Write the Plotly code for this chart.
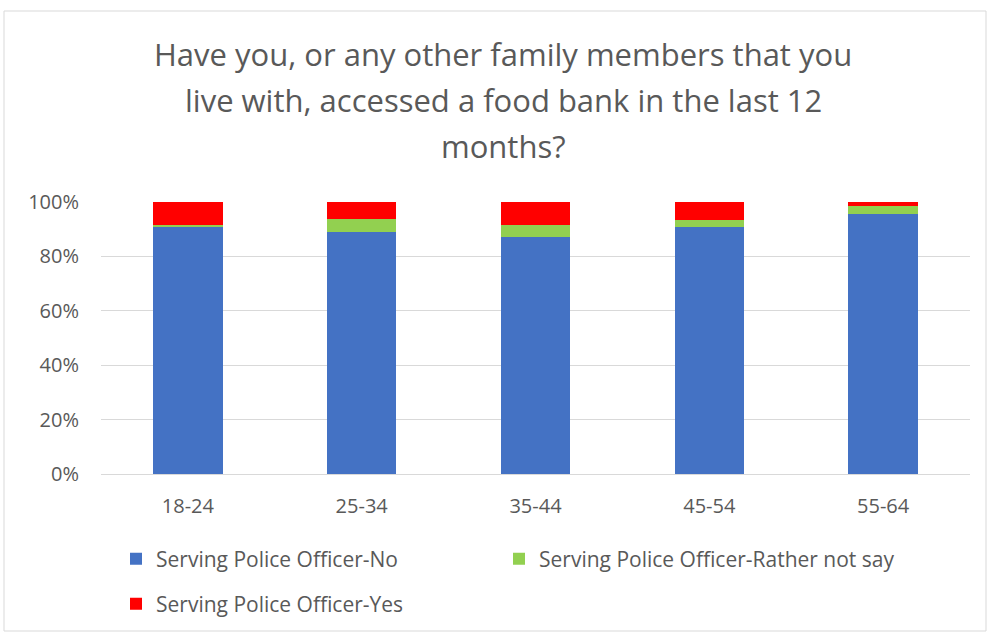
import plotly.graph_objects as go

# Age bands and the share of each response within each band
age_groups = ["18-24", "25-34", "35-44", "45-54", "55-64"]
resp_no = [0.907, 0.889, 0.871, 0.908, 0.956]
resp_rather_not = [0.009, 0.047, 0.044, 0.027, 0.029]
resp_yes = [0.084, 0.064, 0.085, 0.065, 0.015]

title_lines = [
    "Have you, or any other family members that you",
    "live with, accessed a food bank in the last 12",
    "months?",
]

FONT = "Open Sans"
TEXT_COL = "#595959"
GRID_COL = "#d9d9d9"

fig = go.Figure()
fig.add_trace(go.Bar(x=age_groups, y=resp_no, name="Serving Police Officer-No",
                     marker=dict(color="#4472c4", line=dict(width=0)), legend="legend"))
fig.add_trace(go.Bar(x=age_groups, y=resp_rather_not, name="Serving Police Officer-Rather not say",
                     marker=dict(color="#92d050", line=dict(width=0)), legend="legend3"))
fig.add_trace(go.Bar(x=age_groups, y=resp_yes, name="Serving Police Officer-Yes",
                     marker=dict(color="#ff0000", line=dict(width=0)), legend="legend2"))

W, H = 989, 633
ml, mr, mt, mb = 101, 19, 202, 159
pw, ph = W - ml - mr, H - mt - mb

def px_x(p):
    return (p - ml) / pw

def px_y(p):
    return (H - mb - p) / ph

annotations = []
for line, yp in zip(title_lines, [54, 100, 146]):
    annotations.append(dict(text=line, x=px_x(503), y=px_y(yp), xref="paper", yref="paper",
                            showarrow=False, xanchor="center", yanchor="middle",
                            font=dict(family=FONT, size=31, color=TEXT_COL)))

legend_font = dict(family=FONT, size=21, color=TEXT_COL)

def legend_at(xp, yp):
    return dict(orientation="h", x=px_x(xp), y=px_y(yp), xanchor="left", yanchor="middle",
                font=legend_font, itemclick=False, bgcolor="rgba(0,0,0,0)")

fig.update_layout(
    width=W, height=H,
    margin=dict(l=ml, r=mr, t=mt, b=mb, autoexpand=False),
    paper_bgcolor="white", plot_bgcolor="white",
    barmode="stack", bargap=0.6,
    font=dict(family=FONT, size=20, color=TEXT_COL),
    annotations=annotations,
    shapes=[dict(type="rect", xref="paper", yref="paper",
                 x0=px_x(4), x1=px_x(986), y0=px_y(11), y1=px_y(631),
                 line=dict(color=GRID_COL, width=1), layer="below")],
    legend=legend_at(116, 559),
    legend3=legend_at(499, 559),
    legend2=legend_at(116, 604),
    showlegend=True,
)
fig.update_xaxes(showgrid=False, showline=True, linecolor=GRID_COL, ticks="",
                 range=[-0.5, 4.5], ticklabelstandoff=14,
                 tickfont=dict(family=FONT, size=20, color=TEXT_COL))
fig.update_yaxes(range=[0, 1], dtick=0.2, tickformat=".0%", showgrid=True,
                 gridcolor=GRID_COL, gridwidth=1, zeroline=False, showline=False,
                 ticks="", ticklabelstandoff=21,
                 tickfont=dict(family=FONT, size=20, color=TEXT_COL))

fig.write_html("out.html")
